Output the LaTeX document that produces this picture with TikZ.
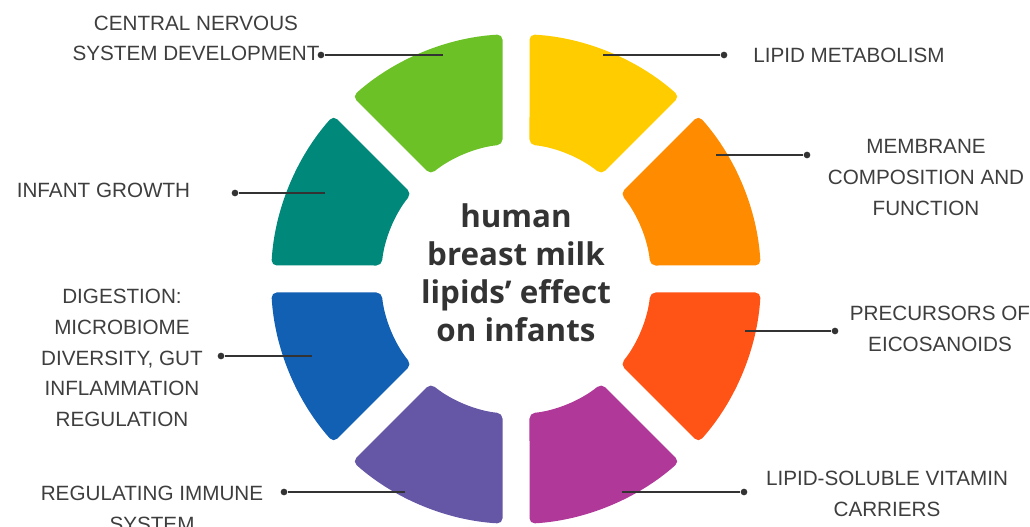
\documentclass[tikz,border=0pt]{standalone}
\usepackage{fontspec}
\setmainfont{Liberation Sans}
\newfontfamily\hubfont{Open Sans}
\usetikzlibrary{positioning}
\definecolor{leafgreen}{HTML}{6CC126}
\definecolor{sunyellow}{HTML}{FFCC00}
\definecolor{tangerine}{HTML}{FF8C00}
\definecolor{flame}{HTML}{FF5416}
\definecolor{plum}{HTML}{B03899}
\definecolor{violet}{HTML}{6656A6}
\definecolor{royal}{HTML}{1260B3}
\definecolor{teal}{HTML}{00897A}
\definecolor{inkgray}{HTML}{3E3E3E}
\definecolor{linegray}{HTML}{333333}
\begin{document}
\begin{tikzpicture}[x=0.75pt,y=0.75pt,
  sector/.style={rounded corners=4pt},
  tag/.style={text=inkgray,font=\fontsize{15.5}{23}\selectfont,align=center,inner sep=0pt},
  hub/.style={text=linegray,font=\hubfont\bfseries\fontsize{23.5}{28.5}\selectfont,align=center,inner sep=0pt},
  dot/.style={circle,fill=linegray,inner sep=0pt,minimum size=5pt},
  lead/.style={line width=1.1pt,linegray}]
\useasboundingbox (-516,-248) rectangle (514,279);
\def\gap{13.5}
\def\Rout{245}
\def\Rin{135}
% ring of eight sectors
\foreach \a/\col in {90/leafgreen,45/sunyellow,0/tangerine,-45/flame,-90/plum,-135/violet,180/royal,135/teal}
  \fill[sector,\col] ({\a+asin(\gap/\Rout)}:\Rout)
    arc[start angle={\a+asin(\gap/\Rout)},end angle={\a+45-asin(\gap/\Rout)},radius=\Rout]
    -- ({\a+45-asin(\gap/\Rin)}:\Rin)
    arc[start angle={\a+45-asin(\gap/\Rin)},end angle={\a+asin(\gap/\Rin)},radius=\Rin] -- cycle;
\node[hub] (hub) at (0,6.5) {human\\breast milk\\lipids’ effect\\on infants};
% labels
\node[tag] (cns) at (-320,240.5) {CENTRAL NERVOUS\\SYSTEM DEVELOPMENT};
\node[tag,anchor=west] (meta) at (237,224) {LIPID METABOLISM};
\node[tag] (growth) at (-412.5,89) {INFANT GROWTH};
\node[tag] (memb) at (410,101.5) {MEMBRANE\\COMPOSITION AND\\FUNCTION};
\node[tag] (eico) at (424,-50) {PRECURSORS OF\\EICOSANOIDS};
\node[tag] (vit) at (371,-215) {LIPID-SOLUBLE VITAMIN\\CARRIERS};
\node[tag] (gut) at (-394,-79) {DIGESTION:\\MICROBIOME\\DIVERSITY, GUT\\INFLAMMATION\\REGULATION};
\node[tag] (immune) at (-364,-230) {REGULATING IMMUNE\\SYSTEM};
% dots and inner ends
\node[dot] (d-cns) at (-195,224) {};
\node[dot] (d-meta) at (208,224) {};
\node[dot] (d-growth) at (-281,86) {};
\node[dot] (d-memb) at (291,124) {};
\node[dot] (d-eico) at (319,-52) {};
\node[dot] (d-vit) at (228,-213) {};
\node[dot] (d-gut) at (-295,-77) {};
\node[dot] (d-immune) at (-232,-213) {};
\coordinate (p-cns) at (-73,224);
\coordinate (p-meta) at (87,224);
\coordinate (p-growth) at (-191,86);
\coordinate (p-memb) at (200,124);
\coordinate (p-eico) at (229,-52);
\coordinate (p-vit) at (106,-213);
\coordinate (p-gut) at (-204,-77);
\coordinate (p-immune) at (-111,-213);
\foreach \x in {cns,meta,growth,memb,eico,vit,gut,immune} \draw[lead] (p-\x) -- (d-\x);
\end{tikzpicture}
\end{document}
